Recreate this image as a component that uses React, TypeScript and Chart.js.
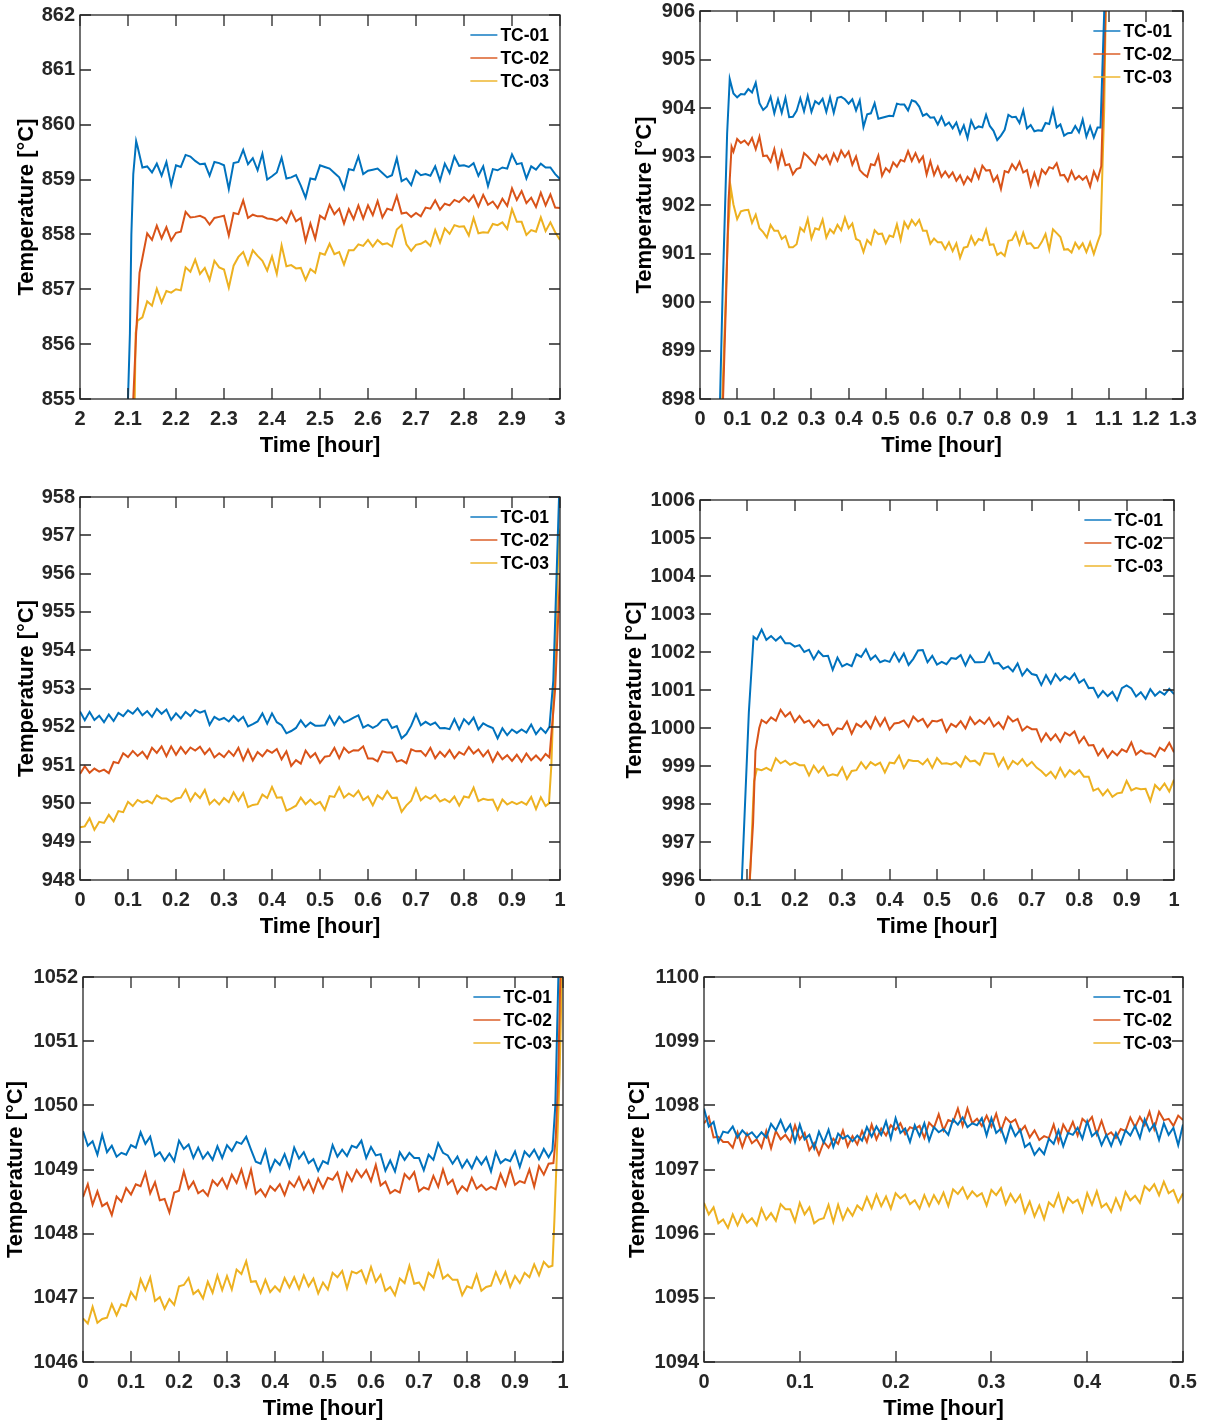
import React, { useEffect, useRef } from "react";
import { Chart, registerables } from "chart.js";
Chart.register(...registerables);

const SERIES_NAMES = ["TC-01", "TC-02", "TC-03"];
const SERIES_COLORS = ["#0072BD", "#D95319", "#EDB120"];
const X_TITLE = "Time [hour]";
const Y_TITLE = "Temperature [°C]";

// ---------------- Panel 1 (x: 2..3 h) ----------------
const p1Tc01LeadT = [2.09, 2.104, 2.107, 2.111, 2.117];
const p1Tc01LeadV = [852, 856.2, 858.0, 859.1, 859.7];
const p1Tc01 = [
  859.6, 859.22, 859.24, 859.13, 859.29, 859.07, 859.32, 858.9, 859.26, 859.23,
  859.45, 859.42, 859.34, 859.28, 859.29, 859.07, 859.32, 859.3, 859.26, 858.83,
  859.3, 859.32, 859.54, 859.28, 859.39, 859.17, 859.47, 859.0, 859.06, 859.13,
  859.4, 859.02, 859.04, 859.08, 858.89, 858.67, 859.02, 859.0, 859.26, 859.23,
  859.2, 859.12, 859.04, 858.83, 859.19, 859.17, 859.42, 859.1, 859.16, 859.18,
  859.2, 859.12, 859.04, 859.08, 859.39, 858.97, 859.02, 858.9, 859.16, 859.08,
  859.1, 859.07, 859.24, 858.98, 859.29, 859.12, 859.42, 859.25, 859.26, 859.23,
  859.3, 859.07, 859.24, 858.88, 859.19, 859.17, 859.22, 859.2, 859.46, 859.28,
  859.3, 859.02, 859.24, 859.18, 859.29, 859.22, 859.22, 859.1, 859.01,
];
const p1Tc02LeadT = [2.105, 2.111, 2.117, 2.124];
const p1Tc02LeadV = [852, 855.0, 856.2, 857.3];
const p1Tc02 = [
  857.57, 858.02, 857.9, 858.16, 857.93, 858.13, 857.89, 858.03, 858.05, 858.41,
  858.31, 858.32, 858.34, 858.3, 858.18, 858.3, 858.32, 858.34, 857.98, 858.39,
  858.37, 858.62, 858.3, 858.36, 858.33, 858.33, 858.29, 858.28, 858.25, 858.31,
  858.21, 858.42, 858.24, 858.3, 857.88, 858.2, 857.92, 858.34, 858.28, 858.54,
  858.37, 858.47, 858.2, 858.46, 858.28, 858.53, 858.29, 858.53, 858.35, 858.61,
  858.31, 858.47, 858.44, 858.7, 858.38, 858.4, 858.32, 858.39, 858.33, 858.49,
  858.47, 858.62, 858.45, 858.56, 858.53, 858.63, 858.59, 858.68, 858.6, 858.71,
  858.51, 858.72, 858.54, 858.6, 858.48, 858.65, 858.52, 858.84, 858.63, 858.79,
  858.57, 858.67, 858.5, 858.76, 858.53, 858.73, 858.49, 858.48,
];
const p1Tc03LeadT = [2.108, 2.114, 2.116];
const p1Tc03LeadV = [852, 855.0, 856.2];
const p1Tc03 = [
  856.43, 856.49, 856.78, 856.7, 857.01, 856.76, 856.97, 856.94, 857.0, 856.98,
  857.4, 857.32, 857.54, 857.28, 857.39, 857.17, 857.52, 857.4, 857.36, 857.03,
  857.43, 857.59, 857.68, 857.45, 857.71, 857.61, 857.52, 857.34, 857.6, 857.28,
  857.8, 857.42, 857.44, 857.38, 857.39, 857.17, 857.37, 857.3, 857.66, 857.63,
  857.83, 857.64, 857.68, 857.45, 857.71, 857.71, 857.82, 857.79, 857.9, 857.78,
  857.9, 857.82, 857.84, 857.78, 858.09, 858.17, 857.82, 857.7, 857.81, 857.83,
  857.88, 857.79, 858.08, 857.85, 858.11, 858.01, 858.17, 858.14, 858.15, 857.98,
  858.3, 858.02, 858.04, 858.03, 858.19, 858.17, 858.22, 858.1, 858.46, 858.23,
  858.23, 857.99, 858.08, 858.05, 858.31, 858.06, 858.22, 858.04, 857.9,
];

// ---------------- Panel 2 (x: 0..1.3 h) ----------------
const p2Tc01LeadT = [0.045, 0.054, 0.061, 0.068, 0.073, 0.08];
const p2Tc01LeadV = [896, 898.0, 900.24, 902.1, 903.47, 904.6];
const p2Tc01 = [
  904.3, 904.22, 904.29, 904.28, 904.39, 904.32, 904.52, 904.1, 903.96, 904.03,
  904.23, 903.89, 904.18, 903.9, 904.21, 903.81, 903.82, 903.94, 904.2, 903.93,
  904.25, 903.92, 904.14, 904.08, 904.19, 903.92, 904.22, 903.9, 904.21, 904.23,
  904.18, 904.09, 904.18, 903.95, 904.16, 903.61, 903.87, 903.89, 904.1, 903.78,
  903.8, 903.82, 903.84, 903.83, 904.09, 904.07, 904.07, 903.95, 904.16, 904.13,
  904.03, 903.84, 903.88, 903.8, 903.81, 903.66, 903.82, 903.64, 903.7, 903.58,
  903.7, 903.47, 903.64, 903.38, 903.74, 903.57, 903.62, 903.6, 903.86, 903.63,
  903.53, 903.34, 903.43, 903.55, 903.86, 903.81, 903.82, 903.69, 903.95, 903.58,
  903.65, 903.52, 903.54, 903.53, 903.69, 903.67, 903.97, 903.6, 903.66, 903.43,
  903.48, 903.49, 903.63, 903.5, 903.76, 903.41, 903.62, 903.39, 903.6,
];
const p2Tc01TailT = [1.078, 1.088, 1.1];
const p2Tc01TailV = [903.6, 906.0, 908.5];
const p2Tc02LeadT = [0.055, 0.062, 0.07, 0.077, 0.085];
const p2Tc02LeadV = [896, 898, 900.03, 902.1, 903.2];
const p2Tc02 = [
  903.1, 903.36, 903.28, 903.33, 903.24, 903.38, 903.15, 903.41, 903.01, 903.02,
  902.89, 903.15, 902.78, 903.1, 902.82, 902.84, 902.63, 902.74, 902.77, 903.07,
  903.0, 902.91, 902.83, 903.03, 902.94, 903.03, 902.85, 903.06, 902.91, 903.12,
  902.99, 903.1, 902.83, 903.0, 902.72, 902.64, 902.58, 902.84, 902.82, 903.02,
  902.6, 902.76, 902.68, 902.88, 902.79, 902.93, 902.9, 903.11, 902.91, 903.07,
  902.89, 903.0, 902.63, 902.9, 902.62, 902.79, 902.58, 902.69, 902.57, 902.67,
  902.5, 902.61, 902.43, 902.58, 902.49, 902.73, 902.55, 902.81, 902.71, 902.72,
  902.49, 902.6, 902.33, 902.7, 902.67, 902.84, 902.73, 902.89, 902.67, 902.72,
  902.4, 902.66, 902.43, 902.73, 902.64, 902.78, 902.75, 902.86, 902.61, 902.62,
  902.49, 902.7, 902.53, 902.6, 902.52, 902.59, 902.38, 902.69, 902.52,
];
const p2Tc02TailT = [1.08, 1.09, 1.098];
const p2Tc02TailV = [902.8, 905.5, 908.5];
const p2Tc03LeadT = [0.05, 0.06, 0.075, 0.083];
const p2Tc03LeadV = [896, 898, 901.4, 902.35];
const p2Tc03 = [
  902.01, 901.71, 901.87, 901.89, 901.9, 901.63, 901.8, 901.52, 901.44, 901.33,
  901.59, 901.47, 901.47, 901.3, 901.36, 901.13, 901.13, 901.19, 901.53, 901.45,
  901.71, 901.31, 901.52, 901.49, 901.7, 901.33, 901.5, 901.42, 901.59, 901.48,
  901.74, 901.52, 901.62, 901.3, 901.26, 901.03, 901.28, 901.19, 901.48, 901.4,
  901.41, 901.21, 901.37, 901.34, 901.6, 901.28, 901.65, 901.52, 901.69, 901.58,
  901.69, 901.47, 901.47, 901.2, 901.31, 901.23, 901.23, 901.09, 901.23, 901.05,
  901.21, 900.91, 901.12, 901.14, 901.35, 901.18, 901.3, 901.27, 901.49, 901.18,
  901.19, 900.97, 901.02, 900.95, 901.26, 901.28, 901.43, 901.19, 901.43, 901.2,
  901.21, 901.11, 901.12, 901.24, 901.4, 901.08, 901.5, 901.42, 901.34, 901.08,
  901.09, 901.02, 901.22, 901.1, 901.21, 901.03, 901.23, 900.99, 901.23,
];
const p2Tc03TailT = [1.078, 1.088, 1.097];
const p2Tc03TailV = [901.4, 904.0, 908.5];

// ---------------- Panel 3 (x: 0..1 h) ----------------
const p3Tc01 = [
  952.4, 952.17, 952.39, 952.18, 952.29, 952.12, 952.32, 952.15, 952.36, 952.28,
  952.43, 952.34, 952.48, 952.3, 952.41, 952.26, 952.47, 952.34, 952.45, 952.18,
  952.35, 952.22, 952.39, 952.28, 952.44, 952.37, 952.42, 952.05, 952.26, 952.18,
  952.23, 952.14, 952.28, 952.15, 952.26, 952.01, 952.07, 952.14, 952.35, 952.08,
  952.35, 952.12, 952.04, 951.83, 951.89, 951.97, 952.17, 952.0, 952.11, 952.03,
  952.03, 952.04, 952.28, 952.05, 952.26, 952.11, 952.17, 952.24, 952.3, 951.98,
  952.05, 951.97, 952.04, 952.18, 952.19, 951.97, 952.02, 951.7, 951.81, 952.03,
  952.33, 952.04, 952.13, 952.05, 952.11, 951.96, 951.97, 951.94, 952.2, 951.93,
  952.2, 952.07, 952.24, 951.93, 952.09, 952.02, 951.97, 951.7, 951.96, 951.78,
  951.93, 951.84, 951.93, 951.85, 952.06, 951.81, 951.97, 951.84,
];
const p3Tc01TailT = [0.978, 0.986, 0.998, 1.002];
const p3Tc01TailV = [952.0, 953.2, 958.0, 959.0];
const p3Tc02 = [
  950.77, 950.97, 950.8, 950.91, 950.83, 950.88, 950.79, 951.08, 951.05, 951.31,
  951.21, 951.37, 951.24, 951.35, 951.18, 951.45, 951.32, 951.49, 951.23, 951.49,
  951.27, 951.47, 951.3, 951.46, 951.38, 951.48, 951.29, 951.43, 951.2, 951.31,
  951.21, 951.37, 951.24, 951.45, 951.13, 951.4, 951.12, 951.34, 951.23, 951.39,
  951.32, 951.42, 951.15, 951.36, 950.98, 951.13, 951.04, 951.38, 951.2, 951.31,
  951.06, 951.22, 951.24, 951.45, 951.18, 951.45, 951.32, 951.39, 951.38, 951.49,
  951.17, 951.17, 951.1, 951.36, 951.33, 951.33, 951.09, 951.13, 951.05, 951.41,
  951.36, 951.37, 951.24, 951.45, 951.18, 951.35, 951.22, 951.39, 951.18, 951.34,
  951.27, 951.47, 951.3, 951.41, 951.23, 951.38, 951.09, 951.33, 951.15, 951.26,
  951.11, 951.27, 951.09, 951.3, 951.13, 951.25, 951.12, 951.29,
];
const p3Tc02TailT = [0.978, 0.99, 1.0];
const p3Tc02TailV = [951.2, 953.0, 956.0];
const p3Tc03 = [
  949.38, 949.4, 949.61, 949.31, 949.52, 949.49, 949.7, 949.53, 949.8, 949.77,
  950.04, 949.93, 950.09, 950.02, 950.07, 950.0, 950.21, 950.13, 950.13, 950.04,
  950.13, 950.15, 950.36, 950.06, 950.27, 950.14, 950.35, 949.98, 950.1, 949.97,
  950.14, 950.03, 950.29, 950.07, 950.27, 949.9, 949.96, 949.98, 950.23, 950.14,
  950.43, 950.15, 950.16, 949.81, 949.87, 949.94, 950.15, 949.98, 950.1, 949.97,
  950.04, 949.83, 950.19, 950.17, 950.42, 950.15, 950.26, 950.18, 950.33, 950.09,
  950.18, 949.95, 950.21, 950.11, 950.32, 950.14, 950.15, 949.78, 949.95, 950.07,
  950.39, 950.08, 950.19, 950.12, 950.22, 950.05, 950.11, 950.03, 950.18, 949.94,
  950.18, 950.15, 950.41, 950.06, 950.12, 950.09, 950.1, 949.83, 950.1, 949.97,
  950.04, 949.98, 950.04, 949.97, 950.17, 949.85, 950.16, 949.93,
];
const p3Tc03TailT = [0.977, 0.982, 0.99, 0.998, 1.0];
const p3Tc03TailV = [950.0, 951.0, 954.0, 957.1, 957.0];

// ---------------- Panel 4 (x: 0..1 h) ----------------
const p4Tc01LeadT = [0.085, 0.103, 0.113];
const p4Tc01LeadV = [995, 1000.4, 1002.4];
const p4Tc01 = [
  1002.33, 1002.59, 1002.32, 1002.42, 1002.3, 1002.41, 1002.23, 1002.23, 1002.14, 1002.18,
  1002.0, 1002.06, 1001.81, 1002.02, 1001.89, 1001.9, 1001.53, 1001.85, 1001.62, 1001.69,
  1001.63, 1001.94, 1001.87, 1002.07, 1001.8, 1001.91, 1001.73, 1001.78, 1001.74, 1001.98,
  1001.75, 1001.96, 1001.66, 1001.82, 1002.04, 1002.05, 1001.73, 1001.9, 1001.67, 1001.74,
  1001.68, 1001.84, 1001.82, 1001.92, 1001.65, 1001.91, 1001.73, 1001.73, 1001.74, 1001.98,
  1001.7, 1001.71, 1001.56, 1001.62, 1001.49, 1001.7, 1001.38, 1001.55, 1001.42, 1001.39,
  1001.13, 1001.39, 1001.17, 1001.42, 1001.25, 1001.36, 1001.28, 1001.43, 1001.19, 1001.28,
  1001.05, 1001.06, 1000.81, 1000.97, 1000.84, 1000.95, 1000.73, 1001.05, 1001.12, 1001.04,
  1000.83, 1000.94, 1000.77, 1001.02, 1000.85, 1000.96, 1000.88, 1001.03, 1000.89,
];
const p4Tc02LeadT = [0.1, 0.112, 0.117, 0.125];
const p4Tc02LeadV = [995, 997.5, 999.4, 1000.0];
const p4Tc02 = [
  1000.21, 1000.13, 1000.28, 1000.19, 1000.48, 1000.3, 1000.41, 1000.16, 1000.32, 1000.14,
  1000.2, 1000.03, 1000.2, 1000.07, 1000.09, 999.83, 999.99, 999.97, 1000.17, 999.85,
  1000.11, 1000.03, 1000.18, 999.99, 1000.28, 1000.05, 1000.26, 999.96, 1000.12, 1000.14,
  1000.2, 1000.03, 1000.3, 1000.17, 1000.24, 1000.03, 1000.19, 1000.17, 1000.22, 999.9,
  1000.11, 1000.03, 1000.18, 999.99, 1000.28, 1000.1, 1000.21, 1000.11, 1000.27, 1000.04,
  1000.15, 999.98, 1000.3, 1000.17, 1000.24, 999.93, 1000.04, 999.97, 999.97, 999.65,
  999.86, 999.68, 999.83, 999.64, 999.88, 999.8, 999.91, 999.61, 999.77, 999.54,
  999.55, 999.28, 999.45, 999.22, 999.39, 999.28, 999.44, 999.37, 999.62, 999.3,
  999.41, 999.33, 999.33, 999.24, 999.48, 999.4, 999.61, 999.36,
];
const p4Tc03LeadT = [0.102, 0.114];
const p4Tc03LeadV = [995, 998.6];
const p4Tc03 = [
  998.92, 998.89, 998.95, 998.88, 999.2, 999.07, 999.14, 999.03, 999.09, 999.02,
  999.02, 998.75, 999.01, 998.83, 998.98, 998.74, 998.78, 998.75, 998.96, 998.66,
  998.87, 998.89, 999.1, 998.93, 999.1, 999.02, 999.09, 998.83, 999.09, 999.07,
  999.27, 998.95, 999.16, 999.13, 999.13, 999.04, 999.18, 998.95, 999.21, 999.06,
  999.07, 999.04, 999.1, 998.98, 999.25, 999.12, 999.14, 999.03, 999.34, 999.32,
  999.32, 999.0, 999.21, 998.93, 999.13, 999.04, 999.18, 999.0, 999.11, 998.96,
  998.87, 998.74, 998.85, 998.68, 998.95, 998.72, 998.89, 998.78, 998.89, 998.72,
  998.72, 998.35, 998.41, 998.23, 998.38, 998.19, 998.28, 998.3, 998.61, 998.36,
  998.42, 998.39, 998.4, 998.08, 998.5, 998.37, 998.54, 998.33, 998.64,
];

// ---------------- Panel 5 (x: 0..1 h) ----------------
const p5Tc01 = [
  1049.6, 1049.37, 1049.44, 1049.23, 1049.54, 1049.27, 1049.37, 1049.2, 1049.26, 1049.23,
  1049.38, 1049.34, 1049.58, 1049.4, 1049.51, 1049.21, 1049.27, 1049.14, 1049.25, 1049.13,
  1049.45, 1049.32, 1049.39, 1049.18, 1049.34, 1049.17, 1049.27, 1049.15, 1049.36, 1049.18,
  1049.38, 1049.29, 1049.43, 1049.4, 1049.51, 1049.31, 1049.12, 1049.09, 1049.3, 1048.98,
  1049.15, 1049.07, 1049.24, 1049.03, 1049.34, 1049.17, 1049.27, 1049.1, 1049.16, 1048.98,
  1049.13, 1049.09, 1049.38, 1049.2, 1049.31, 1049.21, 1049.37, 1049.34, 1049.45, 1049.18,
  1049.35, 1049.22, 1049.24, 1048.98, 1049.14, 1048.97, 1049.27, 1049.15, 1049.26, 1049.18,
  1049.18, 1048.99, 1049.23, 1049.15, 1049.41, 1049.26, 1049.22, 1049.09, 1049.2, 1049.03,
  1049.15, 1049.02, 1049.19, 1049.08, 1049.19, 1048.97, 1049.27, 1049.1, 1049.16, 1049.13,
  1049.28, 1049.04, 1049.28, 1049.2, 1049.31, 1049.16, 1049.32, 1049.19,
];
const p5Tc01TailT = [0.978, 0.984, 0.991];
const p5Tc01TailV = [1049.3, 1050.0, 1052.2];
const p5Tc02 = [
  1048.57, 1048.77, 1048.45, 1048.66, 1048.43, 1048.48, 1048.29, 1048.58, 1048.5, 1048.71,
  1048.61, 1048.77, 1048.74, 1048.95, 1048.63, 1048.8, 1048.52, 1048.54, 1048.33, 1048.64,
  1048.67, 1048.97, 1048.7, 1048.81, 1048.63, 1048.68, 1048.59, 1048.83, 1048.75, 1048.86,
  1048.71, 1048.92, 1048.79, 1049.0, 1048.73, 1049.0, 1048.62, 1048.69, 1048.58, 1048.74,
  1048.67, 1048.77, 1048.6, 1048.81, 1048.73, 1048.88, 1048.69, 1048.83, 1048.65, 1048.86,
  1048.71, 1048.87, 1048.84, 1048.95, 1048.68, 1048.95, 1048.82, 1048.99, 1048.88, 1048.99,
  1048.82, 1049.07, 1048.75, 1048.81, 1048.63, 1048.68, 1048.64, 1048.93, 1048.85, 1048.96,
  1048.66, 1048.72, 1048.69, 1048.9, 1048.73, 1049.0, 1048.77, 1048.84, 1048.63, 1048.74,
  1048.67, 1048.87, 1048.7, 1048.76, 1048.68, 1048.73, 1048.69, 1048.93, 1048.75, 1049.01,
  1048.76, 1048.82, 1048.79, 1049.0, 1048.73, 1049.05, 1048.92, 1049.09,
];
const p5Tc02TailT = [0.98, 0.985, 0.99, 0.995];
const p5Tc02TailV = [1049.1, 1049.5, 1050.5, 1052.2];
const p5Tc03 = [
  1046.68, 1046.6, 1046.86, 1046.61, 1046.67, 1046.69, 1046.9, 1046.73, 1046.9, 1046.87,
  1047.09, 1046.98, 1047.29, 1047.12, 1047.32, 1046.95, 1047.01, 1046.83, 1046.98, 1046.89,
  1047.18, 1047.2, 1047.31, 1047.06, 1047.12, 1046.99, 1047.25, 1047.08, 1047.35, 1047.12,
  1047.34, 1047.13, 1047.44, 1047.37, 1047.57, 1047.25, 1047.26, 1047.08, 1047.28, 1047.09,
  1047.18, 1047.1, 1047.31, 1047.16, 1047.32, 1047.14, 1047.35, 1047.18, 1047.3, 1047.07,
  1047.24, 1047.13, 1047.39, 1047.32, 1047.42, 1047.15, 1047.41, 1047.38, 1047.43, 1047.24,
  1047.48, 1047.25, 1047.36, 1047.11, 1047.17, 1047.04, 1047.3, 1047.23, 1047.5, 1047.22,
  1047.24, 1047.13, 1047.39, 1047.32, 1047.57, 1047.3, 1047.36, 1047.28, 1047.28, 1047.04,
  1047.18, 1047.15, 1047.36, 1047.11, 1047.17, 1047.19, 1047.4, 1047.23, 1047.4, 1047.17,
  1047.34, 1047.23, 1047.39, 1047.32, 1047.52, 1047.35, 1047.56, 1047.48,
];
const p5Tc03TailT = [0.978, 0.982, 0.987, 0.993, 0.998];
const p5Tc03TailV = [1047.5, 1048.2, 1049.2, 1050.5, 1052.2];

// ---------------- Panel 6 (x: 0..0.5 h) ----------------
const p6Tc01 = [
  1097.95, 1097.67, 1097.74, 1097.43, 1097.59, 1097.57, 1097.67, 1097.5, 1097.61, 1097.53,
  1097.58, 1097.49, 1097.58, 1097.5, 1097.71, 1097.61, 1097.77, 1097.59, 1097.7, 1097.43,
  1097.7, 1097.47, 1097.54, 1097.33, 1097.59, 1097.42, 1097.62, 1097.35, 1097.56, 1097.48,
  1097.53, 1097.44, 1097.53, 1097.45, 1097.66, 1097.51, 1097.67, 1097.54, 1097.75, 1097.48,
  1097.8, 1097.57, 1097.64, 1097.43, 1097.69, 1097.52, 1097.72, 1097.45, 1097.66, 1097.58,
  1097.63, 1097.54, 1097.78, 1097.7, 1097.81, 1097.66, 1097.72, 1097.69, 1097.8, 1097.53,
  1097.8, 1097.57, 1097.64, 1097.43, 1097.69, 1097.52, 1097.62, 1097.35, 1097.41, 1097.23,
  1097.33, 1097.24, 1097.48, 1097.4, 1097.61, 1097.36, 1097.57, 1097.54, 1097.65, 1097.48,
  1097.75, 1097.52, 1097.59, 1097.38, 1097.54, 1097.37, 1097.57, 1097.4, 1097.61, 1097.53,
  1097.68, 1097.49, 1097.78, 1097.6, 1097.71, 1097.46, 1097.72, 1097.54, 1097.65, 1097.38,
  1097.7,
];
const p6Tc02 = [
  1097.72, 1097.82, 1097.5, 1097.51, 1097.43, 1097.43, 1097.34, 1097.58, 1097.35, 1097.56,
  1097.41, 1097.47, 1097.34, 1097.6, 1097.33, 1097.6, 1097.47, 1097.54, 1097.43, 1097.69,
  1097.47, 1097.57, 1097.3, 1097.41, 1097.23, 1097.43, 1097.34, 1097.48, 1097.4, 1097.61,
  1097.36, 1097.52, 1097.39, 1097.6, 1097.43, 1097.7, 1097.47, 1097.64, 1097.53, 1097.69,
  1097.62, 1097.72, 1097.55, 1097.66, 1097.63, 1097.68, 1097.49, 1097.73, 1097.65, 1097.86,
  1097.61, 1097.77, 1097.74, 1097.95, 1097.68, 1097.95, 1097.72, 1097.79, 1097.68, 1097.84,
  1097.67, 1097.87, 1097.6, 1097.81, 1097.73, 1097.78, 1097.59, 1097.68, 1097.5, 1097.61,
  1097.46, 1097.52, 1097.49, 1097.7, 1097.43, 1097.7, 1097.57, 1097.74, 1097.53, 1097.79,
  1097.72, 1097.82, 1097.55, 1097.76, 1097.53, 1097.58, 1097.49, 1097.63, 1097.6, 1097.81,
  1097.66, 1097.82, 1097.69, 1097.9, 1097.63, 1097.9, 1097.77, 1097.79, 1097.68, 1097.84,
  1097.77,
];
const p6Tc03 = [
  1096.48, 1096.3, 1096.41, 1096.16, 1096.22, 1096.09, 1096.3, 1096.13, 1096.3, 1096.17,
  1096.24, 1096.13, 1096.39, 1096.22, 1096.32, 1096.2, 1096.46, 1096.38, 1096.38, 1096.19,
  1096.48, 1096.3, 1096.41, 1096.16, 1096.22, 1096.24, 1096.45, 1096.18, 1096.45, 1096.22,
  1096.39, 1096.28, 1096.44, 1096.37, 1096.57, 1096.4, 1096.61, 1096.43, 1096.58, 1096.39,
  1096.63, 1096.55, 1096.61, 1096.46, 1096.52, 1096.39, 1096.6, 1096.43, 1096.6, 1096.47,
  1096.64, 1096.43, 1096.69, 1096.62, 1096.72, 1096.55, 1096.66, 1096.58, 1096.63, 1096.44,
  1096.68, 1096.6, 1096.71, 1096.46, 1096.62, 1096.49, 1096.6, 1096.33, 1096.5, 1096.27,
  1096.44, 1096.23, 1096.49, 1096.42, 1096.62, 1096.35, 1096.56, 1096.48, 1096.53, 1096.34,
  1096.63, 1096.45, 1096.66, 1096.41, 1096.47, 1096.34, 1096.55, 1096.38, 1096.65, 1096.52,
  1096.59, 1096.48, 1096.74, 1096.67, 1096.77, 1096.6, 1096.81, 1096.63, 1096.68, 1096.49,
  1096.63,
];

// ---------------- assembly ----------------
type SeriesDef = {
  leadT: number[]; leadV: number[];
  start: number; step: number; values: number[];
  tailT: number[]; tailV: number[];
};
const S = (leadT: number[], leadV: number[], start: number, step: number, values: number[], tailT: number[] = [], tailV: number[] = []): SeriesDef =>
  ({ leadT, leadV, start, step, values, tailT, tailV });

type PanelDef = {
  L: number; T: number; R: number; B: number;
  xMin: number; xMax: number; xStep: number;
  yMin: number; yMax: number;
  yTitleGap: number;
  series: SeriesDef[];
};

const PANELS: PanelDef[] = [
  {
    L: 80, T: 15, R: 560, B: 399, xMin: 2, xMax: 3, xStep: 0.1, yMin: 855, yMax: 862, yTitleGap: 53,
    series: [
      S(p1Tc01LeadT, p1Tc01LeadV, 2.12, 0.01, p1Tc01),
      S(p1Tc02LeadT, p1Tc02LeadV, 2.13, 0.01, p1Tc02),
      S(p1Tc03LeadT, p1Tc03LeadV, 2.12, 0.01, p1Tc03),
    ],
  },
  {
    L: 700, T: 11, R: 1183, B: 399, xMin: 0, xMax: 1.3, xStep: 0.1, yMin: 898, yMax: 906, yTitleGap: 55,
    series: [
      S(p2Tc01LeadT, p2Tc01LeadV, 0.09, 0.01, p2Tc01, p2Tc01TailT, p2Tc01TailV),
      S(p2Tc02LeadT, p2Tc02LeadV, 0.09, 0.01, p2Tc02, p2Tc02TailT, p2Tc02TailV),
      S(p2Tc03LeadT, p2Tc03LeadV, 0.09, 0.01, p2Tc03, p2Tc03TailT, p2Tc03TailV),
    ],
  },
  {
    L: 80, T: 497, R: 560, B: 880, xMin: 0, xMax: 1, xStep: 0.1, yMin: 948, yMax: 958, yTitleGap: 53,
    series: [
      S([], [], 0, 0.01, p3Tc01, p3Tc01TailT, p3Tc01TailV),
      S([], [], 0, 0.01, p3Tc02, p3Tc02TailT, p3Tc02TailV),
      S([], [], 0, 0.01, p3Tc03, p3Tc03TailT, p3Tc03TailV),
    ],
  },
  {
    L: 700, T: 500, R: 1174, B: 880, xMin: 0, xMax: 1, xStep: 0.1, yMin: 996, yMax: 1006, yTitleGap: 65,
    series: [
      S(p4Tc01LeadT, p4Tc01LeadV, 0.12, 0.01, p4Tc01),
      S(p4Tc02LeadT, p4Tc02LeadV, 0.13, 0.01, p4Tc02),
      S(p4Tc03LeadT, p4Tc03LeadV, 0.12, 0.01, p4Tc03),
    ],
  },
  {
    L: 83, T: 977, R: 563, B: 1362, xMin: 0, xMax: 1, xStep: 0.1, yMin: 1046, yMax: 1052, yTitleGap: 67,
    series: [
      S([], [], 0, 0.01, p5Tc01, p5Tc01TailT, p5Tc01TailV),
      S([], [], 0, 0.01, p5Tc02, p5Tc02TailT, p5Tc02TailV),
      S([], [], 0, 0.01, p5Tc03, p5Tc03TailT, p5Tc03TailV),
    ],
  },
  {
    L: 704, T: 977, R: 1183, B: 1362, xMin: 0, xMax: 0.5, xStep: 0.1, yMin: 1094, yMax: 1100, yTitleGap: 66,
    series: [
      S([], [], 0, 0.005, p6Tc01),
      S([], [], 0, 0.005, p6Tc02),
      S([], [], 0, 0.005, p6Tc03),
    ],
  },
];

function buildPoints(s: SeriesDef) {
  const pts: { x: number; y: number }[] = [];
  s.leadT.forEach((t, i) => pts.push({ x: t, y: s.leadV[i] }));
  s.values.forEach((v, i) => pts.push({ x: +(s.start + i * s.step).toFixed(4), y: v }));
  s.tailT.forEach((t, i) => pts.push({ x: t, y: s.tailV[i] }));
  return pts;
}

const FONT = '"Liberation Sans", Arial, Helvetica, sans-serif';
const TICK_FONT_SIZE = 20;
const TITLE_FONT_SIZE = 22;
const LEGEND_FONT_SIZE = 17.5;
const AXIS_COLOR = "#262626";
const PAD_L = 80, PAD_T = 20, PAD_R = 24, PAD_B = 70;

const framePlugin = {
  id: "matlabFrame",
  afterDraw(chart: any) {
    const { ctx, chartArea, scales } = chart;
    const { left, top, right, bottom } = chartArea;
    const xs = scales.x, ys = scales.y;
    const TL = 11;
    ctx.save();
    ctx.strokeStyle = AXIS_COLOR;
    ctx.lineWidth = 1.3;
    ctx.beginPath();
    xs.ticks.forEach((t: any) => {
      const px = Math.round(xs.getPixelForValue(t.value));
      ctx.moveTo(px, bottom); ctx.lineTo(px, bottom - TL);
      ctx.moveTo(px, top); ctx.lineTo(px, top + TL);
    });
    ys.ticks.forEach((t: any) => {
      const py = Math.round(ys.getPixelForValue(t.value));
      ctx.moveTo(left, py); ctx.lineTo(left + TL, py);
      ctx.moveTo(right, py); ctx.lineTo(right - TL, py);
    });
    ctx.stroke();
    ctx.strokeRect(left, top, right - left, bottom - top);

    // legend (inside, upper right, no box)
    ctx.font = `bold ${LEGEND_FONT_SIZE}px ${FONT}`;
    ctx.textBaseline = "middle";
    ctx.textAlign = "left";
    const labels = chart.data.datasets.map((d: any) => d.label as string);
    const w = Math.max(...labels.map((l: string) => ctx.measureText(l).width));
    const textX = right - 11 - w;
    chart.data.datasets.forEach((d: any, i: number) => {
      const y = top + 20 + i * 23;
      ctx.strokeStyle = d.borderColor;
      ctx.lineWidth = 1.4;
      ctx.beginPath();
      ctx.moveTo(textX - 30, y); ctx.lineTo(textX - 3, y);
      ctx.stroke();
      ctx.fillStyle = "#000";
      ctx.fillText(d.label, textX, y + 1);
    });
    ctx.restore();
  },
};

function Panel({ p }: { p: PanelDef }) {
  const ref = useRef<HTMLCanvasElement>(null);
  const W = p.R - p.L + PAD_L + PAD_R;
  const H = p.B - p.T + PAD_T + PAD_B;
  useEffect(() => {
    if (!ref.current) return;
    const titleLH = TITLE_FONT_SIZE * 1.2;
    const chart = new Chart(ref.current, {
      type: "line",
      data: {
        datasets: p.series.map((s, i) => ({
          label: SERIES_NAMES[i],
          data: buildPoints(s),
          borderColor: SERIES_COLORS[i],
          backgroundColor: SERIES_COLORS[i],
          borderWidth: 2,
          borderJoinStyle: "miter",
          pointRadius: 0,
          fill: false,
          tension: 0,
          clip: 0,
        })),
      },
      options: {
        responsive: false,
        animation: false,
        devicePixelRatio: 1,
        layout: { padding: { left: 0, top: PAD_T, right: PAD_R, bottom: 0 } },
        plugins: { legend: { display: false }, tooltip: { enabled: false } },
        events: [],
        scales: {
          x: {
            type: "linear",
            min: p.xMin,
            max: p.xMax,
            afterFit: (s: any) => { s.height = PAD_B; },
            grid: { display: false, drawTicks: false },
            border: { display: false },
            ticks: {
              stepSize: p.xStep,
              autoSkip: false,
              maxRotation: 0,
              padding: 8,
              color: AXIS_COLOR,
              font: { family: FONT, size: TICK_FONT_SIZE, weight: "bold" },
              callback: (v: any) => String(Math.round(Number(v) * 100) / 100),
            },
            title: {
              display: true,
              text: X_TITLE,
              color: "#000",
              font: { family: FONT, size: TITLE_FONT_SIZE, weight: "bold" },
              padding: { top: 0, bottom: PAD_B - 47 - titleLH / 2 },
            },
          },
          y: {
            type: "linear",
            min: p.yMin,
            max: p.yMax,
            afterFit: (s: any) => { s.width = PAD_L; },
            grid: { display: false, drawTicks: false },
            border: { display: false },
            ticks: {
              stepSize: 1,
              padding: 5,
              color: AXIS_COLOR,
              font: { family: FONT, size: TICK_FONT_SIZE, weight: "bold" },
              callback: (v: any) => String(Math.round(Number(v))),
            },
            title: {
              display: true,
              text: Y_TITLE,
              color: "#000",
              font: { family: FONT, size: TITLE_FONT_SIZE, weight: "bold" },
              padding: { top: Math.max(0, PAD_L - p.yTitleGap - titleLH / 2), bottom: 0 },
            },
          },
        },
      } as any,
      plugins: [framePlugin],
    });
    return () => chart.destroy();
  }, []);
  return (
    <canvas
      ref={ref}
      width={W}
      height={H}
      style={{ position: "absolute", left: p.L - PAD_L, top: p.T - PAD_T, width: W, height: H }}
    />
  );
}

export default function App() {
  return (
    <div style={{ position: "absolute", left: 0, top: 0, width: 1207, height: 1426, overflow: "hidden", background: "#fff" }}>
      {PANELS.map((p, i) => <Panel key={i} p={p} />)}
    </div>
  );
}
